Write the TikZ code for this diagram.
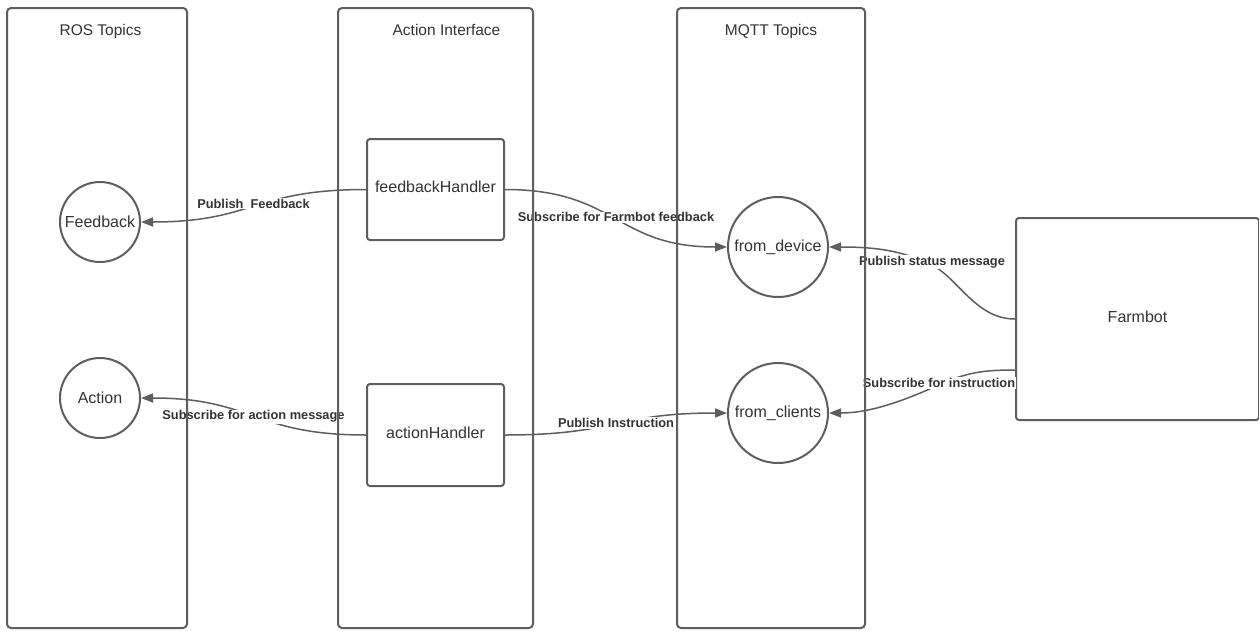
\documentclass[tikz,border=0pt]{standalone}
\usepackage{fontspec}
\setmainfont{Liberation Sans}
\usetikzlibrary{arrows.meta}
\definecolor{ln}{HTML}{5E5E5E}
\definecolor{tx}{HTML}{333333}
\begin{document}
\begin{tikzpicture}[x=1pt,y=-1pt,
  lane/.style={draw=ln,line width=2pt,rounded corners=4pt,minimum width=#1,minimum height=620pt,inner sep=0pt},
  title/.style={text=tx,font=\fontsize{15.5pt}{18pt}\selectfont,anchor=base,inner sep=0pt},
  topic/.style={circle,draw=ln,line width=2pt,text=tx,font=\fontsize{16pt}{19pt}\selectfont,inner sep=0pt,minimum size=#1},
  box/.style={rectangle,rounded corners=3pt,draw=ln,line width=2pt,text=tx,font=\fontsize{16pt}{19pt}\selectfont,inner sep=0pt,text height=12pt,text depth=6pt},
  conn/.style={draw=ln,line width=1.5pt,-{Triangle[length=12pt,width=9pt]}},
  lbl/.style={fill=white,text=tx,font=\bfseries\fontsize{12.8pt}{15pt}\selectfont,inner sep=1pt}
]
\useasboundingbox (0,0) rectangle (1259,630);

% titles
\node[title] (t1) at (100.5,35) {ROS Topics};
\node[title] (t2) at (446.5,35) {Action Interface};
\node[title] (t3) at (771,35) {MQTT Topics};

% topics
\node[topic=80pt] (fb) at (100,222) {Feedback};
\node[topic=80pt] (act) at (100,398) {Action};
\node[topic=100pt] (dev) at (778,247) {from\_device};
\node[topic=100pt] (cli) at (778,413) {from\_clients};

% handlers
\node[box,minimum width=137pt,minimum height=101pt] (fbh) at (435.5,189.5) {feedbackHandler};
\node[box,minimum width=137pt,minimum height=102pt] (ah) at (435.5,435) {actionHandler};
\node[box,minimum width=243pt,minimum height=202pt] (farm) at (1137.5,319) {Farmbot};

% label points
\coordinate (l5) at (930,264);
\coordinate (l6) at (941,384);

% connectors
\draw[conn] (fbh.west) .. controls +(-113,0) and +(113,0) .. (fb.east)
  node[lbl,pos=0.5,yshift=2pt] {Publish~~Feedback};
\draw[conn] (ah.west) .. controls +(-113,0) and +(113,0) .. (act.east)
  node[lbl,pos=0.5] {Subscribe for action message};
\draw[conn] (fbh.east) .. controls +(112,0) and +(-112,0) .. (dev.west)
  node[lbl,pos=0.5,yshift=1pt] {Subscribe for Farmbot feedback};
\draw[conn] (ah.east) .. controls +(112,0) and +(-112,0) .. (cli.west)
  node[lbl,pos=0.5,yshift=1pt] {Publish Instruction};
\draw[conn] (farm.west) .. controls +(-40,0) and +(28,13) .. (l5)
  node[lbl,xshift=2pt,yshift=2pt] {Publish status message}
  .. controls +(-30,-14) and +(45,0) .. (dev.east);
\draw[conn] ([yshift=-51pt]farm.west) .. controls +(-30,0) and +(27,-12) .. (l6)
  node[lbl,xshift=-2pt,yshift=1pt] {Subscribe for instruction}
  .. controls +(-30,13.4) and +(45,0) .. (cli.east);

% lanes (drawn last so their lines show over the labels)
\node[lane=180pt] (ros) at (97,318) {};
\node[lane=195pt] (ai) at (435.5,318) {};
\node[lane=188pt] (mq) at (771,318) {};
\end{tikzpicture}
\end{document}
